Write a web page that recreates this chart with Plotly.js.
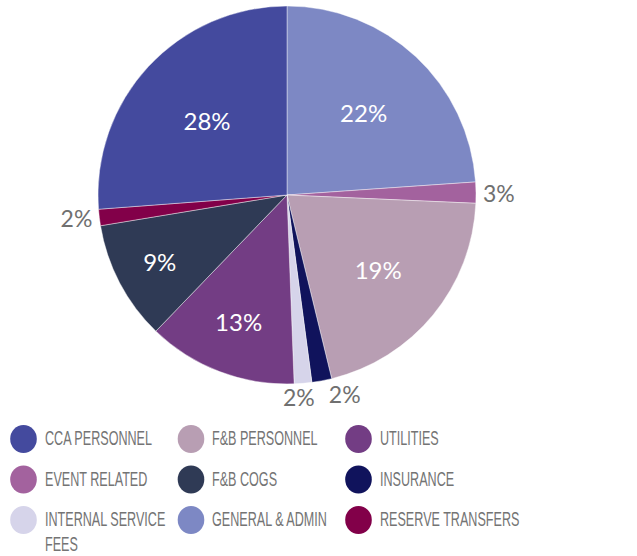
<!DOCTYPE html>
<html>
<head>
<meta charset="utf-8">
<script src="https://cdn.plot.ly/plotly-3.0.1.min.js"></script>
<style>html,body{margin:0;padding:0;background:#fff;}#chart{width:637px;height:556px;}</style>
</head>
<body>
<div id="chart"></div>
<script>
// Slices, clockwise from 12 o'clock
const categories = ["GENERAL & ADMIN", "EVENT RELATED", "F&B PERSONNEL", "INSURANCE",
  "INTERNAL SERVICE FEES", "UTILITIES", "F&B COGS", "RESERVE TRANSFERS", "CCA PERSONNEL"];
// Slice sizes as drawn (share of the circle, %)
const sliceShare = [23.9, 1.8, 20.5, 1.7, 1.5, 12.8, 10.2, 1.4, 26.2];
// Percent labels printed on the chart
const shownPercent = ["22%", "3%", "19%", "2%", "2%", "13%", "9%", "2%", "28%"];
const sliceColors = ["#7d88c4", "#a3629e", "#b89eb3", "#10135c",
  "#d6d4ea", "#733d84", "#2f3a55", "#820049", "#444a9e"];
// Legend order (3 columns, row by row)
const legendOrder = ["CCA PERSONNEL", "F&B PERSONNEL", "UTILITIES", "EVENT RELATED", "F&B COGS",
  "INSURANCE", "INTERNAL SERVICE FEES", "GENERAL & ADMIN", "RESERVE TRANSFERS"];

const W = 637, H = 556;
// pie geometry (pixels)
const pieLeft = 98, pieRight = 476, pieTop = 6, pieBottom = 384;
const pcx = (pieLeft + pieRight) / 2, pcy = (pieTop + pieBottom) / 2, pr = (pieRight - pieLeft) / 2;

// small slices get outside labels; the one that would collide is placed as an annotation
const total = sliceShare.reduce((a, b) => a + b, 0);
const collideIdx = categories.indexOf("INTERNAL SERVICE FEES");
const textPos = sliceShare.map((v, i) => i === collideIdx ? "none" : (v < 5 ? "outside" : "inside"));

const trace = {
  type: "pie",
  labels: categories,
  values: sliceShare,
  text: shownPercent,
  texttemplate: "%{text}",
  textinfo: "text",
  textposition: textPos,
  insidetextorientation: "horizontal",
  sort: false,
  direction: "clockwise",
  rotation: 0,
  marker: { colors: sliceColors, line: { color: "rgba(255,255,255,0.6)", width: 0.7 } },
  insidetextfont: { family: "Lato, 'Open Sans', sans-serif", size: 24, color: "#ffffff" },
  outsidetextfont: { family: "Lato, 'Open Sans', sans-serif", size: 23, color: "#707070" },
  domain: { x: [pieLeft / W, pieRight / W], y: [1 - pieBottom / H, 1 - pieTop / H] },
  showlegend: false,
  hoverinfo: "label+percent"
};

// Legend built as shapes + annotations (one annotation per text line)
const shapes = [], annotations = [];
const colX0 = 23.5, colStep = 167.5, rowY0 = 439, rowStep = 40.5, lineStep = 24.5;
const rx = 13.3, ry = 14;
legendOrder.forEach((name, i) => {
  const col = i % 3, row = Math.floor(i / 3);
  const cx = colX0 + col * colStep, cy = rowY0 + row * rowStep;
  const color = sliceColors[categories.indexOf(name)];
  shapes.push({
    type: "circle", xref: "paper", yref: "paper",
    x0: (cx - rx) / W, x1: (cx + rx) / W,
    y0: 1 - (cy + ry) / H, y1: 1 - (cy - ry) / H,
    fillcolor: color, line: { width: 0 }
  });
  let lines = [name];
  if (name.length > 18) {
    const k = name.lastIndexOf(" ");
    lines = [name.slice(0, k), name.slice(k + 1)];
  }
  lines.forEach((ln, j) => {
    annotations.push({
      xref: "paper", yref: "paper",
      x: (cx + 19) / W, y: 1 - (cy - 1.5 + j * lineStep) / H,
      xanchor: "left", yanchor: "middle", align: "left",
      text: ln, showarrow: false,
      font: { family: "'Liberation Sans', Arial, sans-serif", size: 21, color: "#747474" },
      name: "legendtext"
    });
  });
});
const nLegendAnn = annotations.length;

// outside label for the slice whose native label would be pushed away
(function () {
  let cum = 0;
  for (let i = 0; i < collideIdx; i++) cum += sliceShare[i];
  const mid = (cum + sliceShare[collideIdx] / 2) / total * 2 * Math.PI;
  const rr = pr - 2;
  const x = pcx + rr * Math.sin(mid), y = pcy - rr * Math.cos(mid);
  annotations.push({
    xref: "paper", yref: "paper",
    x: (x - 4) / W, y: 1 - y / H,
    xanchor: "center", yanchor: "top",
    text: shownPercent[collideIdx], showarrow: false,
    font: { family: "Lato, 'Open Sans', sans-serif", size: 23, color: "#707070" }
  });
})();

const layout = {
  width: W, height: H,
  margin: { l: 0, r: 0, t: 0, b: 0 },
  paper_bgcolor: "#ffffff",
  showlegend: false,
  shapes: shapes,
  annotations: annotations
};

Plotly.newPlot("chart", [trace], layout, { displayModeBar: false, staticPlot: true }).then(gd => {
  // condense legend text (reference uses a condensed face)
  gd.querySelectorAll("g.annotation").forEach(g => {
    const idx = +g.getAttribute("data-index");
    if (idx < nLegendAnn) {
      const t = g.querySelector("text.annotation-text");
      if (t) {
        t.style.transformBox = "fill-box";
        t.style.transformOrigin = "0% 50%";
        t.style.transform = "scaleX(0.6)";
      }
    }
  });
});
</script>
</body>
</html>
